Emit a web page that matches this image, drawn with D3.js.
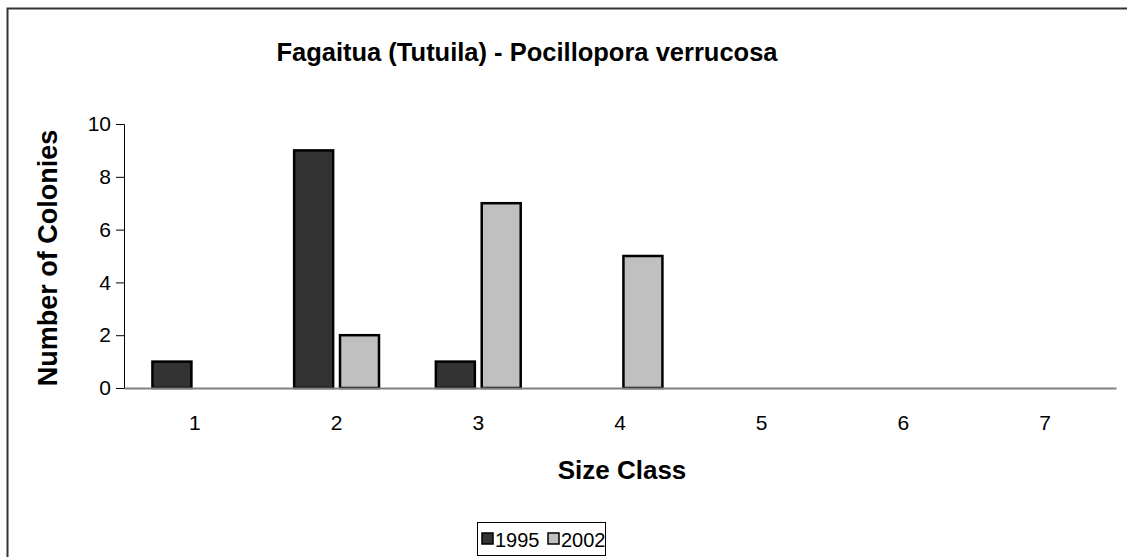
<!DOCTYPE html>
<html>
<head>
<meta charset="utf-8">
<script src="https://cdn.jsdelivr.net/npm/d3@7"></script>
<style>
  body { margin: 0; background: #fff; }
  svg { display: block; font-family: 'Liberation Sans', Arial, sans-serif; }
</style>
</head>
<body>
<svg id="chart" width="1127" height="557"></svg>
<script>
const title = 'Fagaitua (Tutuila) - Pocillopora verrucosa';
const sizeClasses = ['1', '2', '3', '4', '5', '6', '7'];
const seriesNames = ['1995', '2002'];
const values1995 = [1, 9, 1, 0, 0, 0, 0];
const values2002 = [0, 2, 7, 5, 0, 0, 0];
const yTicks = [0, 2, 4, 6, 8, 10];
const colors = ['#333333', '#c0c0c0'];

const width = 1127;
const height = 557;
const plot = { left: 124, right: 1116, top: 124, bottom: 388 };

const svg = d3.select('#chart');

// outer chart border, runs off the right and bottom edges
svg.append('rect')
  .attr('x', 7.5)
  .attr('y', 8.5)
  .attr('width', width + 10)
  .attr('height', height + 10)
  .attr('fill', '#fff')
  .attr('stroke', '#333')
  .attr('stroke-width', 2);

const x0 = d3.scaleBand()
  .domain(sizeClasses)
  .range([plot.left, plot.right]);

const x1 = d3.scaleBand()
  .domain(seriesNames)
  .range([0, x0.bandwidth()])
  .paddingInner(0.15)
  .paddingOuter(0.62);

const y = d3.scaleLinear()
  .domain([0, 10])
  .range([plot.bottom, plot.top]);

const rows = sizeClasses.map((c, i) => ({
  cls: c,
  vals: [values1995[i], values2002[i]]
}));

const groups = svg.append('g')
  .selectAll('g')
  .data(rows)
  .join('g')
  .attr('transform', d => `translate(${x0(d.cls)},0)`);

groups.selectAll('rect')
  .data(d => d.vals.map((v, j) => ({ v, s: seriesNames[j], j })).filter(e => e.v > 0))
  .join('rect')
  .attr('x', d => x1(d.s))
  .attr('y', d => y(d.v))
  .attr('width', x1.bandwidth())
  .attr('height', d => y(0) - y(d.v))
  .attr('fill', d => colors[d.j])
  .attr('stroke', '#000')
  .attr('stroke-width', 2.5);

// y axis
const yAxis = svg.append('g')
  .attr('transform', `translate(${plot.left},0)`)
  .call(d3.axisLeft(y).tickValues(yTicks).tickSize(8).tickPadding(5));
yAxis.select('.domain').attr('stroke', '#000').attr('stroke-width', 1);
yAxis.selectAll('.tick line').attr('stroke', '#000');
yAxis.selectAll('text').attr('font-size', 21).attr('fill', '#000');

// x axis
const xAxis = svg.append('g')
  .attr('transform', `translate(0,${plot.bottom})`)
  .call(d3.axisBottom(x0).tickSize(0).tickPadding(27));
xAxis.select('.domain').attr('stroke', '#808080').attr('stroke-width', 2);
xAxis.selectAll('text').attr('font-size', 21).attr('fill', '#000');

// titles
svg.append('text')
  .attr('x', 527)
  .attr('y', 61)
  .attr('text-anchor', 'middle')
  .attr('font-size', 25.5)
  .attr('font-weight', 'bold')
  .text(title);

svg.append('text')
  .attr('x', 622)
  .attr('y', 479)
  .attr('text-anchor', 'middle')
  .attr('font-size', 26)
  .attr('font-weight', 'bold')
  .text('Size Class');

svg.append('text')
  .attr('transform', 'translate(57,258) rotate(-90)')
  .attr('text-anchor', 'middle')
  .attr('font-size', 27)
  .attr('font-weight', 'bold')
  .text('Number of Colonies');

// legend
const legend = svg.append('g').attr('transform', 'translate(477,522)');
legend.append('rect')
  .attr('x', 0.5).attr('y', 0.5)
  .attr('width', 128).attr('height', 33)
  .attr('fill', '#fff').attr('stroke', '#000').attr('stroke-width', 1);

const items = legend.selectAll('g.item')
  .data(seriesNames)
  .join('g')
  .attr('class', 'item')
  .attr('transform', (d, i) => `translate(${4 + i * 66},0)`);
items.append('rect')
  .attr('x', 1).attr('y', 11)
  .attr('width', 11).attr('height', 11)
  .attr('fill', (d, i) => colors[i])
  .attr('stroke', '#000').attr('stroke-width', 1.5);
items.append('text')
  .attr('x', 14).attr('y', 24.5)
  .attr('font-size', 20)
  .text(d => d);
</script>
</body>
</html>
